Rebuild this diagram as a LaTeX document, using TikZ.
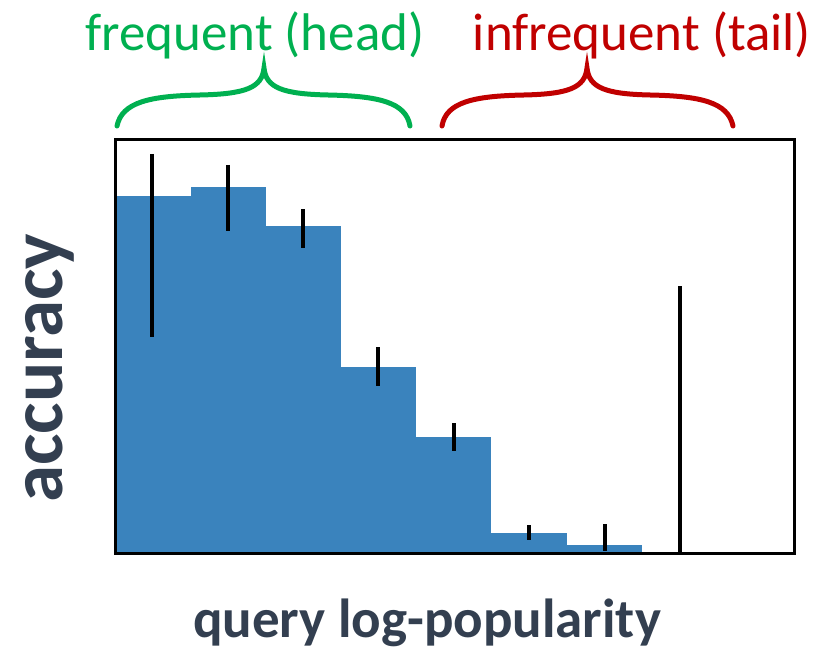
\documentclass[tikz,border=0pt]{standalone}
\usepackage{fontspec}
\setmainfont{Carlito}
\definecolor{headgreen}{HTML}{00B050}
\definecolor{tailred}{HTML}{C00000}
\definecolor{barblue}{HTML}{3A83BD}
\definecolor{labelgray}{HTML}{333F50}
\begin{document}
\begin{tikzpicture}[x=1pt,y=-1pt,
  bar/.style={fill=barblue,draw=none},
  errbar/.style={draw=black,line width=3.5pt},
  bracepath/.style={line width=5pt,line cap=round},
  toplabel/.style={font=\fontsize{53}{60}\selectfont,anchor=base,inner sep=0pt},
  axislabel/.style={font=\fontsize{55}{64}\selectfont\bfseries,text=labelgray,anchor=base,inner sep=0pt}]
\useasboundingbox (0,0) rectangle (833,650);
% bars
\fill[bar] (115,196) rectangle (190.5,553);
\fill[bar] (190.5,187) rectangle (266,553);
\fill[bar] (266,226) rectangle (341,553);
\fill[bar] (341,367) rectangle (416,553);
\fill[bar] (416,437) rectangle (491,553);
\fill[bar] (491,533) rectangle (567,553);
\fill[bar] (567,545) rectangle (642,553);
% error bars
\draw[errbar] (152,154) -- (152,337);
\draw[errbar] (228,165) -- (228,231);
\draw[errbar] (303,209) -- (303,248);
\draw[errbar] (378,347) -- (378,386);
\draw[errbar] (454,423) -- (454,451);
\draw[errbar] (529,525) -- (529,540);
\draw[errbar] (605,524) -- (605,551);
\draw[errbar] (680,286) -- (680,553);
% frame
\draw[line width=3pt] (115,140) rectangle (794,553);
% braces
\draw[bracepath,headgreen] (117,126) .. controls (122,102) and (150,96) .. (200,95)
  .. controls (245,94) and (262,88) .. (264,68)
  .. controls (266,88) and (283,94) .. (328,95)
  .. controls (378,96) and (406,102) .. (410,126);
\draw[bracepath,tailred] (442,126) .. controls (446,102) and (474,96) .. (524,95)
  .. controls (568,94) and (585,88) .. (587,68)
  .. controls (589,88) and (606,94) .. (650,95)
  .. controls (700,96) and (728,102) .. (733,126);
% labels
\node[toplabel,text=headgreen] (head) at (255,51) {frequent (head)};
\node[toplabel,text=tailred] (tail) at (642,51) {infrequent (tail)};
\node[axislabel,font=\fontsize{75}{80}\selectfont\bfseries,rotate=90] (ylab) at (62,368) {accuracy};
\node[axislabel] (xlab) at (427,637) {query log-popularity};
\end{tikzpicture}
\end{document}
